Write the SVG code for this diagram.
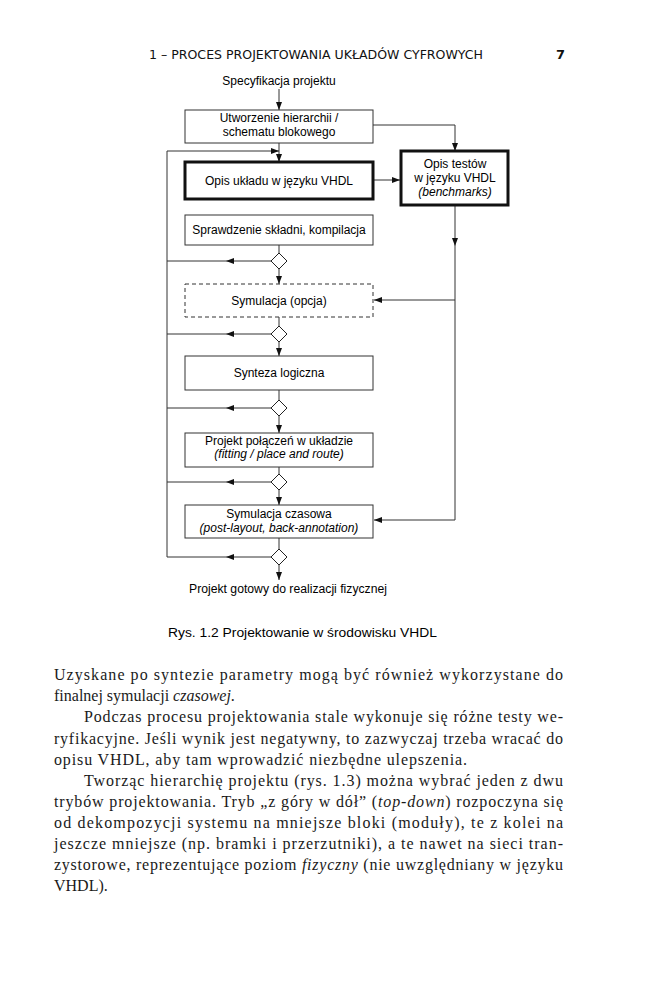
<svg xmlns="http://www.w3.org/2000/svg" width="648" height="989" viewBox="0 0 648 989">
<style>
.d{font-family:"Liberation Sans",Arial,sans-serif;font-size:12px;fill:#000}
.i{font-style:italic}
.b{fill:#fff;stroke:#333;stroke-width:1}
.bt{fill:#fff;stroke:#111;stroke-width:3}
.ln{fill:none;stroke:#333;stroke-width:1}
.dm{fill:#fff;stroke:#222;stroke-width:1}
.body{font-family:"Liberation Serif","Times New Roman",serif;font-size:16px;fill:#1a1a1a}
.hd{font-family:"DejaVu Sans",Verdana,sans-serif;font-size:13px;fill:#111}
</style>
<defs>
<marker id="ah" markerUnits="userSpaceOnUse" markerWidth="8" markerHeight="6" refX="8" refY="3" orient="auto">
<path d="M0,0 L8,3 L0,6 z" fill="#111"/>
</marker>
</defs>
<rect width="648" height="989" fill="#fff"/>

<g id="header">
<text class="hd" x="149" y="59" textLength="334" lengthAdjust="spacingAndGlyphs">1 – PROCES PROJEKTOWANIA UKŁADÓW CYFROWYCH</text>
<text class="hd" x="556" y="59" font-weight="bold" font-size="14">7</text>
</g>

<g id="connectors">
<path class="ln" d="M279,89 L279,110" marker-end="url(#ah)"/>
<path class="ln" d="M279,143 L279,162" marker-end="url(#ah)"/>
<path class="ln" d="M167,557 L167,151 L279,151" marker-end="url(#ah)"/>
<path class="ln" d="M373,125 L455,125 L455,151" marker-end="url(#ah)"/>
<path class="ln" d="M373,180 L400,180" marker-end="url(#ah)"/>
<path class="ln" d="M455,205 L455,246" marker-end="url(#ah)"/>
<path class="ln" d="M455,246 L455,520"/>
<path class="ln" d="M455,300 L374,300" marker-end="url(#ah)"/>
<path class="ln" d="M455,520 L374,520" marker-end="url(#ah)"/>
<path class="ln" d="M279,245 L279,253"/>
<path class="ln" d="M279,269 L279,284" marker-end="url(#ah)"/>
<path class="ln" d="M271,261 L226,261" marker-end="url(#ah)"/>
<path class="ln" d="M226,261 L167,261"/>
<path class="ln" d="M279,317 L279,326"/>
<path class="ln" d="M279,342 L279,356" marker-end="url(#ah)"/>
<path class="ln" d="M271,334 L226,334" marker-end="url(#ah)"/>
<path class="ln" d="M226,334 L167,334"/>
<path class="ln" d="M279,390 L279,400"/>
<path class="ln" d="M279,416 L279,433" marker-end="url(#ah)"/>
<path class="ln" d="M271,408 L226,408" marker-end="url(#ah)"/>
<path class="ln" d="M226,408 L167,408"/>
<path class="ln" d="M279,467 L279,474"/>
<path class="ln" d="M279,490 L279,505" marker-end="url(#ah)"/>
<path class="ln" d="M271,482 L226,482" marker-end="url(#ah)"/>
<path class="ln" d="M226,482 L167,482"/>
<path class="ln" d="M279,538 L279,549"/>
<path class="ln" d="M279,565 L279,580" marker-end="url(#ah)"/>
<path class="ln" d="M271,557 L226,557" marker-end="url(#ah)"/>
<path class="ln" d="M226,557 L167,557"/>
</g>

<g id="start"><text class="d" x="279" y="85" text-anchor="middle">Specyfikacja projektu</text></g>

<g id="n1">
<rect class="b" x="185" y="110" width="188" height="33"/>
<text class="d" x="279" y="122" text-anchor="middle">Utworzenie hierarchii /</text>
<text class="d" x="279" y="136" text-anchor="middle">schematu blokowego</text>
</g>

<g id="n2">
<rect class="bt" x="185" y="162" width="188" height="37"/>
<text class="d" x="279" y="185" text-anchor="middle">Opis układu w języku VHDL</text>
</g>

<g id="n_tests">
<rect class="bt" x="401" y="151" width="107" height="54"/>
<text class="d" x="455" y="168" text-anchor="middle">Opis testów</text>
<text class="d" x="455" y="182" text-anchor="middle">w języku VHDL</text>
<text class="d i" x="455" y="196" text-anchor="middle">(benchmarks)</text>
</g>

<g id="n3">
<rect class="b" x="185" y="215" width="188" height="30"/>
<text class="d" x="279" y="234" text-anchor="middle">Sprawdzenie składni, kompilacja</text>
</g>

<g id="d1"><path class="dm" d="M279,253 L287,261 L279,269 L271,261 z"/></g>

<g id="n4">
<rect x="185" y="284" width="188" height="33" fill="#fff" stroke="#333" stroke-width="1" stroke-dasharray="4,3"/>
<text class="d" x="279" y="305" text-anchor="middle">Symulacja (opcja)</text>
</g>

<g id="d2"><path class="dm" d="M279,326 L287,334 L279,342 L271,334 z"/></g>

<g id="n5">
<rect class="b" x="185" y="356" width="188" height="34"/>
<text class="d" x="279" y="377" text-anchor="middle">Synteza logiczna</text>
</g>

<g id="d3"><path class="dm" d="M279,400 L287,408 L279,416 L271,408 z"/></g>

<g id="n6">
<rect class="b" x="185" y="433" width="188" height="34"/>
<text class="d" x="279" y="445" text-anchor="middle">Projekt połączeń w układzie</text>
<text class="d i" x="279" y="458" text-anchor="middle">(fitting / place and route)</text>
</g>

<g id="d4"><path class="dm" d="M279,474 L287,482 L279,490 L271,482 z"/></g>

<g id="n7">
<rect class="b" x="185" y="505" width="188" height="33"/>
<text class="d" x="279" y="518" text-anchor="middle">Symulacja czasowa</text>
<text class="d i" x="279" y="532" text-anchor="middle">(post-layout, back-annotation)</text>
</g>

<g id="d5"><path class="dm" d="M279,549 L287,557 L279,565 L271,557 z"/></g>

<g id="end"><text class="d" x="189" y="593" textLength="198" lengthAdjust="spacingAndGlyphs">Projekt gotowy do realizacji fizycznej</text></g>

<g id="caption"><text class="d" x="168" y="637" font-size="12.5" textLength="269" lengthAdjust="spacingAndGlyphs">Rys. 1.2  Projektowanie w  środowisku VHDL</text></g>

<g id="bodytext">
<text class="body" x="54" y="680" textLength="509" lengthAdjust="spacing">Uzyskane po syntezie parametry mogą być również wykorzystane do</text>
<text class="body" x="54" y="701">finalnej symulacji <tspan font-style="italic">czasowej</tspan>.</text>
<text class="body" x="84" y="722" textLength="479" lengthAdjust="spacing">Podczas procesu projektowania stale wykonuje się różne testy we-</text>
<text class="body" x="54" y="744" textLength="509" lengthAdjust="spacing">ryfikacyjne. Jeśli wynik jest negatywny, to zazwyczaj trzeba wracać do</text>
<text class="body" x="54" y="765" textLength="413" lengthAdjust="spacing">opisu VHDL, aby tam wprowadzić niezbędne ulepszenia.</text>
<text class="body" x="84" y="786" textLength="479" lengthAdjust="spacing">Tworząc hierarchię projektu (rys. 1.3) można wybrać jeden z dwu</text>
<text class="body" x="54" y="807" textLength="509" lengthAdjust="spacing">trybów projektowania. Tryb „z góry w dół” (<tspan font-style="italic">top-down</tspan>) rozpoczyna się</text>
<text class="body" x="54" y="828" textLength="509" lengthAdjust="spacing">od dekompozycji systemu na mniejsze bloki (moduły), te z kolei na</text>
<text class="body" x="54" y="849" textLength="509" lengthAdjust="spacing">jeszcze mniejsze (np. bramki i przerzutniki), a te nawet na sieci tran-</text>
<text class="body" x="54" y="870" textLength="509" lengthAdjust="spacing">zystorowe, reprezentujące poziom <tspan font-style="italic">fizyczny</tspan> (nie uwzględniany w języku</text>
<text class="body" x="54" y="891">VHDL).</text>
</g>
</svg>
